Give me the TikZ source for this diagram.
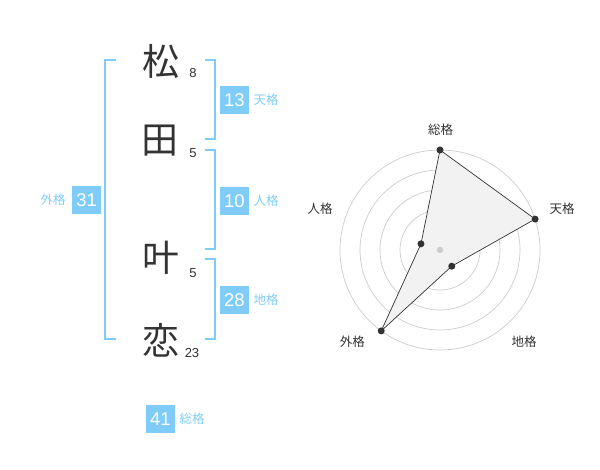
\documentclass[tikz,border=0pt]{standalone}
\usepackage{fontspec}
\usetikzlibrary{calc}
\setmainfont{Liberation Sans}
\newfontfamily\jp{Noto Sans CJK JP}
\definecolor{blu}{HTML}{80CCF8}
\definecolor{ink}{HTML}{333333}
\definecolor{ringc}{HTML}{CCCCCC}
\definecolor{polyfill}{HTML}{F2F2F2}
\begin{document}
\begin{tikzpicture}[x=1pt,y=-1pt,
 kanji/.style={font=\jp\fontsize{37}{37}\selectfont, text=ink, inner sep=0},
 strokes/.style={font=\fontsize{13}{13}\selectfont, text=ink, inner sep=0},
 numbox/.style={fill=blu, text=white, minimum width=29, minimum height=28, inner sep=0, font=\fontsize{18.5}{18.5}\selectfont},
 kakulabel/.style={text=blu, font=\jp\fontsize{12.5}{12.5}\selectfont, inner sep=0},
 brk/.style={draw=blu, line width=2},
 ring/.style={draw=ringc, line width=0.7},
 axislabel/.style={text=ink, font=\jp\fontsize{12.5}{12.5}\selectfont, inner sep=0},
 dot/.style={circle, fill=ink, inner sep=0, minimum size=7}
]
\useasboundingbox (0,0) rectangle (600,470);

% name characters
\node[kanji] (k1) at (160.5,61) {松};
\node[kanji] (k2) at (159.5,141) {田};
\node[kanji] (k3) at (160.5,258) {叶};
\node[kanji] (k4) at (160.5,340) {恋};
\node[strokes] (s1) at (193,72.7) {8};
\node[strokes] (s2) at (193,152.7) {5};
\node[strokes] (s3) at (193,272.7) {5};
\node[strokes] (s4) at (192,353) {23};

% brackets
\draw[brk] (205,60) -- (215,60) -- (215,139) -- (205,139);
\draw[brk] (205,150) -- (215,150) -- (215,249) -- (205,249);
\draw[brk] (205,259) -- (215,259) -- (215,339) -- (205,339);
\draw[brk] (116,60) -- (105,60) -- (105,339) -- (116,339);

% boxes and labels
\node[numbox] (ten) at (234.5,100) {13};
\node[kakulabel] (tenl) at (266,100) {天格};
\node[numbox] (jin) at (234.5,201) {10};
\node[kakulabel] (jinl) at (266,201) {人格};
\node[numbox] (chi) at (234.5,300) {28};
\node[kakulabel] (chil) at (266,300) {地格};
\node[numbox] (gai) at (86.7,200) {31};
\node[kakulabel] (gail) at (53,200) {外格};
\node[numbox] (sou) at (160.5,419) {41};
\node[kakulabel] (soul) at (192,419) {総格};

% radar chart
\coordinate (c) at (440,250);
\foreach \r in {20,40,60,80,100} \draw[ring] (c) circle[radius=\r];
\coordinate (pSou) at ($(c)+(-90:100)$);
\coordinate (pTen) at ($(c)+(-18:100)$);
\coordinate (pChi) at ($(c)+(54:20)$);
\coordinate (pGai) at ($(c)+(126:100)$);
\coordinate (pJin) at ($(c)+(-162:20)$);
\filldraw[fill=polyfill, draw=ink, line width=0.7] (pSou) -- (pTen) -- (pChi) -- (pGai) -- (pJin) -- cycle;
\fill[ringc] (c) circle[radius=3.2];
\foreach \p in {pSou,pTen,pChi,pGai,pJin} \node[dot] at (\p) {};

\node[axislabel] (aSou) at (440.5,130) {総格};
\node[axislabel] (aTen) at (562,208.3) {天格};
\node[axislabel] (aChi) at (524,341.7) {地格};
\node[axislabel] (aGai) at (352.3,341.7) {外格};
\node[axislabel] (aJin) at (320,208.3) {人格};
\end{tikzpicture}
\end{document}
